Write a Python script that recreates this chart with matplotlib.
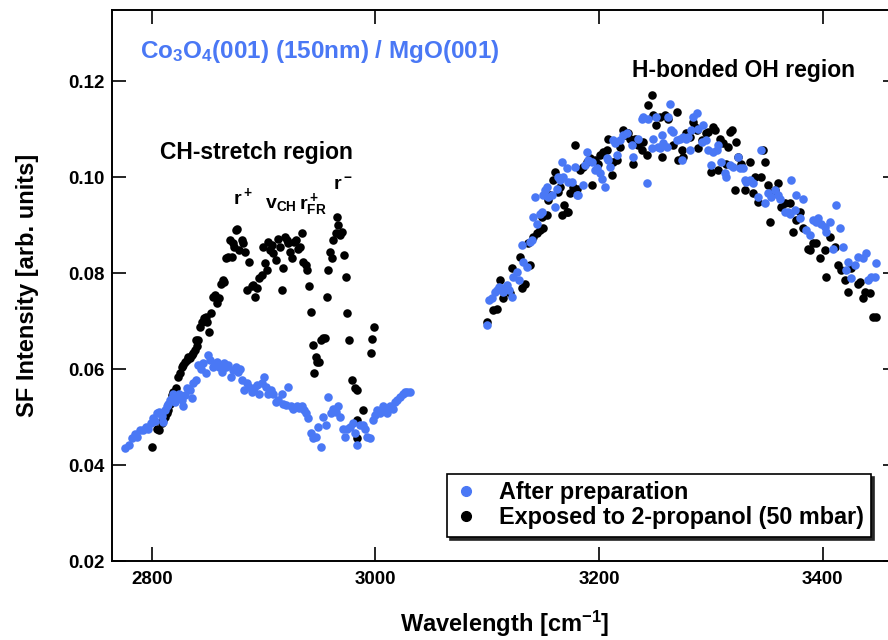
import matplotlib
matplotlib.use('Agg')
import matplotlib.pyplot as plt
from matplotlib.lines import Line2D

plt.rcParams['font.family'] = ['Liberation Sans', 'DejaVu Sans']
plt.rcParams['font.weight'] = 'bold'
plt.rcParams['mathtext.fontset'] = 'custom'
plt.rcParams['mathtext.rm'] = 'Liberation Sans:bold'
plt.rcParams['mathtext.it'] = 'Liberation Sans:bold'
plt.rcParams['mathtext.bf'] = 'Liberation Sans:bold'
plt.rcParams['mathtext.default'] = 'rm'

BLUE = '#4a78f5'

# ---- After preparation, CH-stretch region ----
prep_ch_x = [2776.2, 2780.0, 2782.1, 2785.1, 2787.2, 2789.6, 2792.0, 2794.9, 2797.0, 2799.1,
             2801.5, 2803.0, 2805.1, 2806.8, 2808.9, 2810.4, 2811.9, 2813.4, 2814.9, 2816.4,
             2817.9, 2818.8, 2820.9, 2822.9, 2824.7, 2826.8, 2828.3, 2829.8, 2831.9, 2834.3,
             2835.8, 2837.2, 2839.6, 2841.7, 2843.8, 2846.2, 2848.6, 2850.6, 2852.1, 2854.5,
             2856.6, 2858.1, 2860.5, 2862.6, 2864.7, 2866.4, 2868.5, 2870.9, 2873.0, 2875.4,
             2877.5, 2879.0, 2880.5, 2882.5, 2884.9, 2887.3, 2889.4, 2891.5, 2893.9, 2896.2,
             2898.3, 2900.4, 2902.2, 2904.3, 2906.4, 2908.8, 2910.8, 2913.2, 2916.2, 2917.7,
             2920.1, 2922.2, 2924.3, 2926.6, 2929.6, 2932.0, 2934.1, 2936.2, 2938.0, 2940.0,
             2942.1, 2944.5, 2946.9, 2949.0, 2951.1, 2953.5, 2955.8, 2957.9, 2960.0, 2962.4,
             2964.8, 2966.9, 2968.4, 2970.7, 2972.8, 2974.9, 2977.3, 2979.7, 2981.8, 2983.9,
             2986.2, 2988.6, 2990.7, 2992.8, 2995.2, 2997.6, 2999.7, 3001.7, 3004.1, 3006.5,
             3008.6, 3010.7, 3013.1, 3015.4, 3017.5, 3019.6, 3022.0, 3024.4, 3026.5, 3028.6,
             3030.9]
prep_ch_y = [0.0435, 0.0442, 0.0456, 0.0465, 0.0459, 0.0474, 0.0472, 0.0480, 0.0476, 0.0487,
             0.0499, 0.0492, 0.0508, 0.0511, 0.0502, 0.0490, 0.0515, 0.0522, 0.0528, 0.0535,
             0.0539, 0.0549, 0.0532, 0.0542, 0.0549, 0.0535, 0.0522, 0.0546, 0.0560, 0.0556,
             0.0539, 0.0570, 0.0577, 0.0608, 0.0601, 0.0612, 0.0591, 0.0629, 0.0619, 0.0605,
             0.0608, 0.0615, 0.0605, 0.0594, 0.0613, 0.0605, 0.0608, 0.0584, 0.0598, 0.0605,
             0.0594, 0.0601, 0.0577, 0.0556, 0.0570, 0.0563, 0.0553, 0.0560, 0.0567, 0.0549,
             0.0570, 0.0584, 0.0563, 0.0549, 0.0556, 0.0549, 0.0532, 0.0535, 0.0549, 0.0528,
             0.0525, 0.0563, 0.0522, 0.0516, 0.0522, 0.0518, 0.0522, 0.0515, 0.0508, 0.0499,
             0.0466, 0.0456, 0.0459, 0.0480, 0.0438, 0.0501, 0.0483, 0.0542, 0.0508, 0.0516,
             0.0511, 0.0522, 0.0501, 0.0476, 0.0459, 0.0476, 0.0480, 0.0487, 0.0466, 0.0442,
             0.0483, 0.0483, 0.0476, 0.0459, 0.0456, 0.0494, 0.0504, 0.0515, 0.0508, 0.0522,
             0.0515, 0.0508, 0.0522, 0.0516, 0.0532, 0.0535, 0.0542, 0.0549, 0.0553, 0.0553,
             0.0553]

# ---- After preparation, H-bonded OH region ----
prep_oh_x = [3100.1, 3101.9, 3104.0, 3107.0, 3108.5, 3110.9, 3113.0, 3114.4, 3117.4, 3119.8,
             3121.9, 3123.4, 3126.4, 3128.7, 3130.8, 3132.3, 3135.3, 3138.3, 3139.8, 3141.3,
             3144.2, 3147.2, 3148.7, 3142.8, 3150.2, 3151.7, 3153.2, 3154.7, 3157.7, 3160.6,
             3162.1, 3163.6, 3165.1, 3166.6, 3168.1, 3171.1, 3172.6, 3175.5, 3178.5, 3180.0,
             3181.5, 3186.0, 3187.5, 3188.9, 3190.4, 3193.4, 3196.4, 3197.9, 3200.9, 3202.4,
             3205.3, 3206.8, 3208.3, 3209.8, 3212.8, 3214.3, 3215.8, 3218.7, 3221.7, 3224.7,
             3229.2, 3230.7, 3235.1, 3238.1, 3239.6, 3242.6, 3244.1, 3247.1, 3248.5, 3251.5,
             3253.0, 3254.5, 3256.0, 3257.5, 3260.5, 3262.0, 3263.4, 3264.9, 3266.4, 3269.4,
             3272.4, 3273.9, 3275.4, 3278.3, 3279.8, 3281.3, 3282.8, 3284.3, 3287.3, 3288.8,
             3291.8, 3293.2, 3296.2, 3297.7, 3300.7, 3302.2, 3305.2, 3306.7, 3309.6, 3312.6,
             3314.1, 3317.1, 3320.1, 3324.5, 3326.0, 3329.0, 3330.5, 3332.0, 3335.0, 3337.9,
             3342.4, 3345.4, 3348.4, 3351.4, 3354.3, 3357.3, 3360.3, 3361.8, 3366.3, 3369.2,
             3370.7, 3372.2, 3375.2, 3376.7, 3379.7, 3382.6, 3385.6, 3388.6, 3391.6, 3394.6,
             3396.0, 3399.0, 3402.0, 3403.5, 3406.5, 3409.5, 3412.4, 3415.4, 3418.4, 3421.4,
             3422.9, 3425.9, 3428.8, 3431.8, 3436.3, 3439.3, 3440.7, 3443.7, 3446.7, 3448.2]
prep_oh_y = [0.0692, 0.0744, 0.0747, 0.0761, 0.0765, 0.0771, 0.0768, 0.0761, 0.0775, 0.0765,
             0.0751, 0.0792, 0.0803, 0.0785, 0.0858, 0.0824, 0.0813, 0.0865, 0.0869, 0.0917,
             0.0903, 0.0924, 0.0928, 0.0959, 0.0962, 0.0973, 0.0980, 0.0959, 0.0962, 0.0938,
             0.0976, 0.1001, 0.0994, 0.1032, 0.1001, 0.1018, 0.0990, 0.0990, 0.1021, 0.0962,
             0.0962, 0.0983, 0.1025, 0.1053, 0.1035, 0.1032, 0.1014, 0.1018, 0.1008, 0.0997,
             0.0980, 0.1039, 0.1035, 0.1021, 0.1077, 0.1070, 0.1046, 0.1077, 0.1087, 0.1091,
             0.1067, 0.1042, 0.1080, 0.1122, 0.1126, 0.0987, 0.1122, 0.1060, 0.1080, 0.1126,
             0.1063, 0.1060, 0.1087, 0.1070, 0.1063, 0.1126, 0.1153, 0.1098, 0.1094, 0.1077,
             0.1080, 0.1035, 0.1084, 0.1080, 0.1084, 0.1056, 0.1098, 0.1126, 0.1133, 0.1101,
             0.1074, 0.1108, 0.1077, 0.1056, 0.1025, 0.1053, 0.1056, 0.1067, 0.1032, 0.1008,
             0.1001, 0.1025, 0.1021, 0.1042, 0.1018, 0.1018, 0.0994, 0.0990, 0.0994, 0.0987,
             0.0959, 0.1056, 0.0945, 0.0966, 0.0959, 0.0973, 0.0962, 0.0955, 0.0928, 0.0928,
             0.0924, 0.0994, 0.0931, 0.0962, 0.0914, 0.0955, 0.0889, 0.0879, 0.0910, 0.0907,
             0.0914, 0.0903, 0.0896, 0.0886, 0.0907, 0.0851, 0.0942, 0.0893, 0.0855, 0.0806,
             0.0824, 0.0789, 0.0817, 0.0834, 0.0831, 0.0841, 0.0785, 0.0792, 0.0792, 0.0820]

# ---- Exposed to 2-propanol, CH-stretch region ----
prop_ch_x = [2800.0, 2804.5, 2806.8, 2808.9, 2810.4, 2811.9, 2813.4, 2814.9, 2816.4, 2817.9,
             2819.4, 2821.7, 2823.8, 2825.3, 2826.8, 2828.3, 2829.8, 2831.3, 2832.8, 2834.3,
             2835.8, 2837.2, 2838.7, 2840.8, 2839.6, 2841.7, 2843.2, 2844.7, 2846.8, 2848.6,
             2849.8, 2851.5, 2852.7, 2855.1, 2856.6, 2858.7, 2860.5, 2861.7, 2863.5, 2864.7,
             2866.4, 2868.5, 2870.0, 2871.5, 2872.4, 2873.6, 2875.4, 2876.6, 2878.4, 2880.5,
             2881.9, 2883.4, 2884.9, 2887.3, 2889.4, 2890.9, 2892.4, 2893.9, 2896.2, 2898.3,
             2899.8, 2901.3, 2902.8, 2904.3, 2905.8, 2907.3, 2908.8, 2911.1, 2913.2, 2914.7,
             2916.2, 2917.7, 2919.2, 2920.7, 2922.2, 2923.7, 2925.2, 2927.2, 2929.0, 2931.1,
             2932.6, 2934.1, 2935.6, 2938.0, 2939.2, 2941.0, 2942.1, 2943.9, 2945.1, 2946.9,
             2948.1, 2949.9, 2951.1, 2952.9, 2955.0, 2956.4, 2957.9, 2959.4, 2960.9, 2962.4,
             2964.8, 2966.0, 2966.9, 2968.4, 2969.8, 2971.9, 2973.7, 2974.9, 2976.7, 2978.8,
             2981.8, 2983.9, 2988.6, 2983.3, 2983.9, 2995.8, 2996.7, 2998.8]
prop_ch_y = [0.0438, 0.0476, 0.0473, 0.0487, 0.0494, 0.0501, 0.0508, 0.0515, 0.0528, 0.0546,
             0.0553, 0.0560, 0.0584, 0.0591, 0.0605, 0.0608, 0.0615, 0.0619, 0.0626, 0.0622,
             0.0629, 0.0633, 0.0640, 0.0647, 0.0660, 0.0660, 0.0688, 0.0699, 0.0706, 0.0709,
             0.0699, 0.0678, 0.0716, 0.0751, 0.0754, 0.0737, 0.0747, 0.0778, 0.0785, 0.0782,
             0.0831, 0.0834, 0.0869, 0.0834, 0.0862, 0.0855, 0.0890, 0.0891, 0.0848, 0.0869,
             0.0862, 0.0844, 0.0765, 0.0824, 0.0772, 0.0775, 0.0751, 0.0768, 0.0789, 0.0796,
             0.0855, 0.0820, 0.0806, 0.0865, 0.0848, 0.0858, 0.0841, 0.0827, 0.0872, 0.0855,
             0.0765, 0.0810, 0.0876, 0.0869, 0.0862, 0.0844, 0.0831, 0.0865, 0.0869, 0.0851,
             0.0855, 0.0883, 0.0824, 0.0817, 0.0806, 0.0772, 0.0719, 0.0650, 0.0591, 0.0626,
             0.0615, 0.0615, 0.0660, 0.0664, 0.0664, 0.0751, 0.0806, 0.0844, 0.0831, 0.0869,
             0.0883, 0.0917, 0.0900, 0.0879, 0.0886, 0.0838, 0.0792, 0.0716, 0.0660, 0.0577,
             0.0560, 0.0556, 0.0515, 0.0494, 0.0456, 0.0633, 0.0662, 0.0688]

# ---- Exposed to 2-propanol, H-bonded OH region ----
prop_oh_x = [3100.1, 3105.5, 3108.5, 3111.5, 3114.4, 3115.9, 3120.4, 3121.9, 3129.3, 3130.8,
             3133.8, 3138.3, 3136.8, 3140.7, 3144.2, 3147.2, 3150.2, 3148.7, 3153.2, 3154.7,
             3156.2, 3159.1, 3160.6, 3163.6, 3165.1, 3166.6, 3168.7, 3171.1, 3172.6, 3174.0,
             3177.0, 3178.5, 3180.0, 3183.0, 3186.0, 3188.9, 3191.9, 3193.4, 3196.4, 3199.4,
             3200.9, 3203.8, 3206.8, 3208.3, 3211.3, 3212.8, 3215.8, 3218.7, 3221.7, 3223.2,
             3226.2, 3227.7, 3230.7, 3232.1, 3235.1, 3238.1, 3239.6, 3242.6, 3244.1, 3247.1,
             3248.5, 3251.5, 3254.5, 3256.0, 3259.0, 3262.0, 3266.4, 3269.4, 3270.9, 3273.9,
             3275.4, 3278.3, 3281.3, 3284.3, 3285.8, 3287.3, 3288.8, 3291.8, 3296.2, 3297.7,
             3300.7, 3302.2, 3303.7, 3306.7, 3308.1, 3311.1, 3314.1, 3315.6, 3317.1, 3318.6,
             3321.6, 3323.0, 3324.5, 3327.5, 3330.5, 3335.0, 3337.9, 3339.4, 3342.4, 3345.4,
             3346.9, 3348.4, 3351.4, 3352.8, 3354.3, 3357.3, 3360.3, 3363.3, 3366.3, 3370.7,
             3373.7, 3376.7, 3379.7, 3382.6, 3387.1, 3388.6, 3391.6, 3394.6, 3397.5, 3402.0,
             3403.5, 3406.5, 3411.0, 3413.9, 3416.9, 3419.9, 3422.9, 3425.9, 3431.8, 3433.3,
             3436.3, 3437.8, 3442.2, 3445.2, 3448.2]
prop_oh_y = [0.0699, 0.0723, 0.0726, 0.0785, 0.0747, 0.0764, 0.0758, 0.0810, 0.0834, 0.0768,
             0.0778, 0.0817, 0.0862, 0.0876, 0.0883, 0.0889, 0.0893, 0.0917, 0.0921, 0.0952,
             0.0962, 0.0994, 0.1011, 0.0969, 0.0980, 0.0921, 0.0942, 0.0928, 0.0928, 0.0966,
             0.0980, 0.1067, 0.0976, 0.1014, 0.1021, 0.1032, 0.1039, 0.0983, 0.1035, 0.1028,
             0.1046, 0.1053, 0.1056, 0.1080, 0.1004, 0.1032, 0.1035, 0.1063, 0.1098, 0.1087,
             0.1091, 0.1080, 0.1028, 0.1080, 0.1067, 0.1056, 0.1074, 0.1046, 0.1150, 0.1171,
             0.1129, 0.1108, 0.1126, 0.1042, 0.1129, 0.1122, 0.1067, 0.1136, 0.1035, 0.1056,
             0.1042, 0.1091, 0.1084, 0.1115, 0.1105, 0.1098, 0.1060, 0.1077, 0.1091, 0.1094,
             0.1011, 0.1105, 0.1098, 0.1014, 0.1080, 0.1070, 0.1028, 0.1063, 0.1094, 0.1098,
             0.0973, 0.1074, 0.1042, 0.1028, 0.0973, 0.1032, 0.0966, 0.1001, 0.0949, 0.1001,
             0.1056, 0.1032, 0.0983, 0.0907, 0.0966, 0.0973, 0.0987, 0.0938, 0.0945, 0.0945,
             0.0886, 0.0910, 0.0928, 0.0893, 0.0851, 0.0848, 0.0862, 0.0862, 0.0831, 0.0848,
             0.0792, 0.0876, 0.0855, 0.0817, 0.0806, 0.0785, 0.0761, 0.0810, 0.0778, 0.0782,
             0.0747, 0.0761, 0.0758, 0.0709, 0.0709]

series_labels = ['After preparation', 'Exposed to 2-propanol (50 mbar)']

fig = plt.figure(figsize=(8.88, 6.4), dpi=100)
ax = fig.add_axes([0.1258, 0.1234, 0.8843, 0.8609])

dot = dict(s=38, linewidths=0)
ax.scatter(prop_ch_x, prop_ch_y, color='black', zorder=2, **dot)
ax.scatter(prop_oh_x, prop_oh_y, color='black', zorder=2, **dot)
ax.scatter(prep_ch_x, prep_ch_y, color=BLUE, zorder=3, **dot)
ax.scatter(prep_oh_x, prep_oh_y, color=BLUE, zorder=3, **dot)

ax.set_xlim(2764.2, 3466.6)
ax.set_ylim(0.02, 0.1348)
ax.set_xticks([2800, 3000, 3200, 3400])
ax.set_yticks([0.02, 0.04, 0.06, 0.08, 0.10, 0.12])
ax.yaxis.set_major_formatter(matplotlib.ticker.FormatStrFormatter('%.2f'))
ax.tick_params(axis='both', direction='in', length=10, width=1.2,
               top=True, right=True, labelsize=13.5)
ax.tick_params(axis='x', pad=7)
ax.tick_params(axis='y', pad=5)
for sp in ax.spines.values():
    sp.set_linewidth(1.4)

ax.set_xlabel(r'Wavelength [cm$^{-1}$]', fontsize=17, fontweight='bold', labelpad=15)
ax.set_ylabel('SF Intensity [arb. units]', fontsize=17, fontweight='bold', labelpad=21)

# annotations
ax.text(2789.5, 0.1262, r'Co$_3$O$_4$(001) (150nm) / MgO(001)', color=BLUE,
        fontsize=17.5, fontweight='bold', va='center', ha='left')
ax.text(3229.6, 0.1223, 'H-bonded OH region', fontsize=16.5, fontweight='bold',
        va='center', ha='left')
ax.text(2807.4, 0.1052, 'CH-stretch region', fontsize=16.5, fontweight='bold',
        va='center', ha='left')
ax.text(2881.7, 0.0958, r'r$^+$', fontsize=14, ha='center', va='center')
ax.text(2915.6, 0.0942, r'v$_{CH}$', fontsize=14, ha='center', va='center')
ax.text(2944.3, 0.0942, r'r$^+_{FR}$', fontsize=14, ha='center', va='center')
ax.text(2971.0, 0.0983, r'r$^-$', fontsize=14, ha='center', va='center')

handles = [Line2D([], [], marker='o', linestyle='none', color=BLUE, markersize=7),
           Line2D([], [], marker='o', linestyle='none', color='black', markersize=7)]
leg = ax.legend(handles, series_labels, loc='upper left',
                bbox_to_anchor=(447 / 888, 1 - 474 / 640), bbox_transform=fig.transFigure,
                borderaxespad=0, prop={'weight': 'bold', 'size': 16.8},
                frameon=True, fancybox=False, handlelength=1.0, handletextpad=0.9,
                labelspacing=0.08, borderpad=0.32, shadow={'color': '0.15', 'alpha': 1})
leg.get_frame().set_edgecolor('black')
leg.get_frame().set_linewidth(1.2)

fig.savefig('out.png', dpi=100)
